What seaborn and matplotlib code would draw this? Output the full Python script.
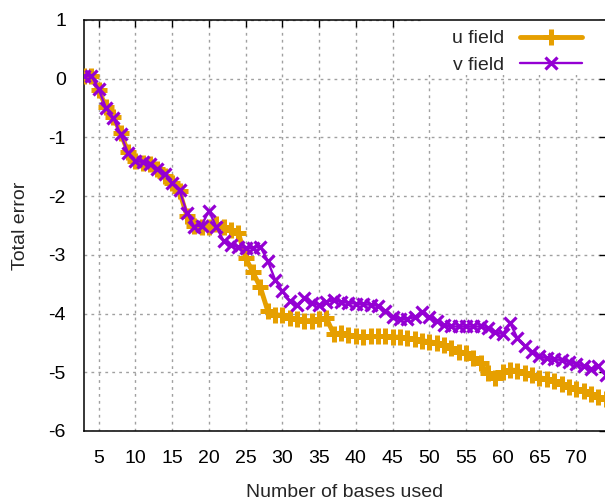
import numpy as np
import pandas as pd
import matplotlib
matplotlib.use("Agg")
import matplotlib.pyplot as plt
from matplotlib.patches import Rectangle
import seaborn as sns

bases = list(range(3, 75))
u_field = [0.05, 0.05, -0.2, -0.48, -0.65, -0.93, -1.25, -1.4, -1.43, -1.45,
           -1.53, -1.65, -1.78, -1.92, -2.33, -2.5, -2.52, -2.52, -2.48, -2.52,
           -2.57, -2.62, -3.05, -3.3, -3.55, -3.95, -4.02, -4.03, -4.08, -4.1,
           -4.12, -4.12, -4.1, -4.08, -4.35, -4.33, -4.36, -4.39, -4.4, -4.39,
           -4.39, -4.39, -4.4, -4.4, -4.42, -4.43, -4.46, -4.48, -4.5, -4.53,
           -4.59, -4.65, -4.67, -4.75, -4.85, -5.02, -5.1, -5.0, -4.96, -4.97,
           -5.01, -5.05, -5.09, -5.12, -5.15, -5.2, -5.25, -5.29, -5.32, -5.37,
           -5.42, -5.45]
v_field = [0.05, 0.05, -0.18, -0.5, -0.67, -0.95, -1.27, -1.4, -1.42, -1.46,
           -1.53, -1.63, -1.78, -1.9, -2.28, -2.52, -2.5, -2.25, -2.52, -2.76,
           -2.83, -2.87, -2.88, -2.88, -2.86, -3.1, -3.42, -3.62, -3.79, -3.85,
           -3.74, -3.82, -3.85, -3.8, -3.77, -3.8, -3.82, -3.83, -3.84, -3.85,
           -3.87, -3.95, -4.05, -4.1, -4.09, -4.06, -3.98, -4.05, -4.13, -4.2,
           -4.22, -4.22, -4.22, -4.22, -4.22, -4.25, -4.32, -4.35, -4.16, -4.42,
           -4.55, -4.65, -4.73, -4.76, -4.78, -4.79, -4.82, -4.86, -4.9, -4.95,
           -4.9, -5.05]
series_names = ["u field", "v field"]
x_ticks = list(range(5, 75, 5))
y_ticks = list(range(-6, 2))

sns.set_style("white")
plt.rcParams["font.family"] = ["Liberation Sans", "DejaVu Sans"]
plt.rcParams["axes.unicode_minus"] = False

FS = 14

fig = plt.figure(figsize=(6.05, 5.04), dpi=100)
ax = fig.add_axes([84 / 605, 73 / 504, 521.6 / 605, 411 / 504])

df_u = pd.DataFrame({"x": bases, "y": u_field})
df_v = pd.DataFrame({"x": bases, "y": v_field})

orange = "#E69F00"
purple = "#9400D3"

sns.lineplot(data=df_u, x="x", y="y", ax=ax, color=orange, lw=3.5,
             marker="+", markersize=11.5, markeredgewidth=3.6,
             markeredgecolor=orange, label=series_names[0], zorder=3)
sns.lineplot(data=df_v, x="x", y="y", ax=ax, color=purple, lw=1.7,
             marker="x", markersize=8, markeredgewidth=2.3,
             markeredgecolor=purple, label=series_names[1], zorder=4)

ax.set_xlim(3, 74)
ax.set_ylim(-6, 1)
ax.set_xticks(x_ticks)
ax.set_yticks(y_ticks)
ax.set_xticklabels([str(t) for t in x_ticks])
ax.set_yticklabels([str(t) for t in y_ticks])

ax.grid(True, color="#a0a0a0", linestyle=(0, (2, 3)), linewidth=1.0)
ax.set_axisbelow(True)
for s in ax.spines.values():
    s.set_color("black")
    s.set_linewidth(1.1)

# opaque key background (covers grid behind the legend)
ax.add_patch(Rectangle((0.648, 0.866), 0.36, 0.134, transform=ax.transAxes,
                       facecolor="white", edgecolor="none", zorder=1))

ax.tick_params(axis="both", direction="in", length=5, width=1.0,
               top=True, right=True, labelsize=FS, colors="black")
ax.tick_params(axis="x", pad=14)
ax.tick_params(axis="y", pad=13)
ax.set_xlabel("Number of bases used", fontsize=FS, labelpad=12)
ax.set_ylabel("Total error", fontsize=FS, labelpad=14)

leg = ax.legend(loc="upper right", frameon=False, markerfirst=False,
                handlelength=3.2, fontsize=FS, borderaxespad=0.0,
                labelspacing=0.45, handletextpad=0.8,
                bbox_to_anchor=(0.97, 0.995))

fig.savefig("out.png", dpi=100)
